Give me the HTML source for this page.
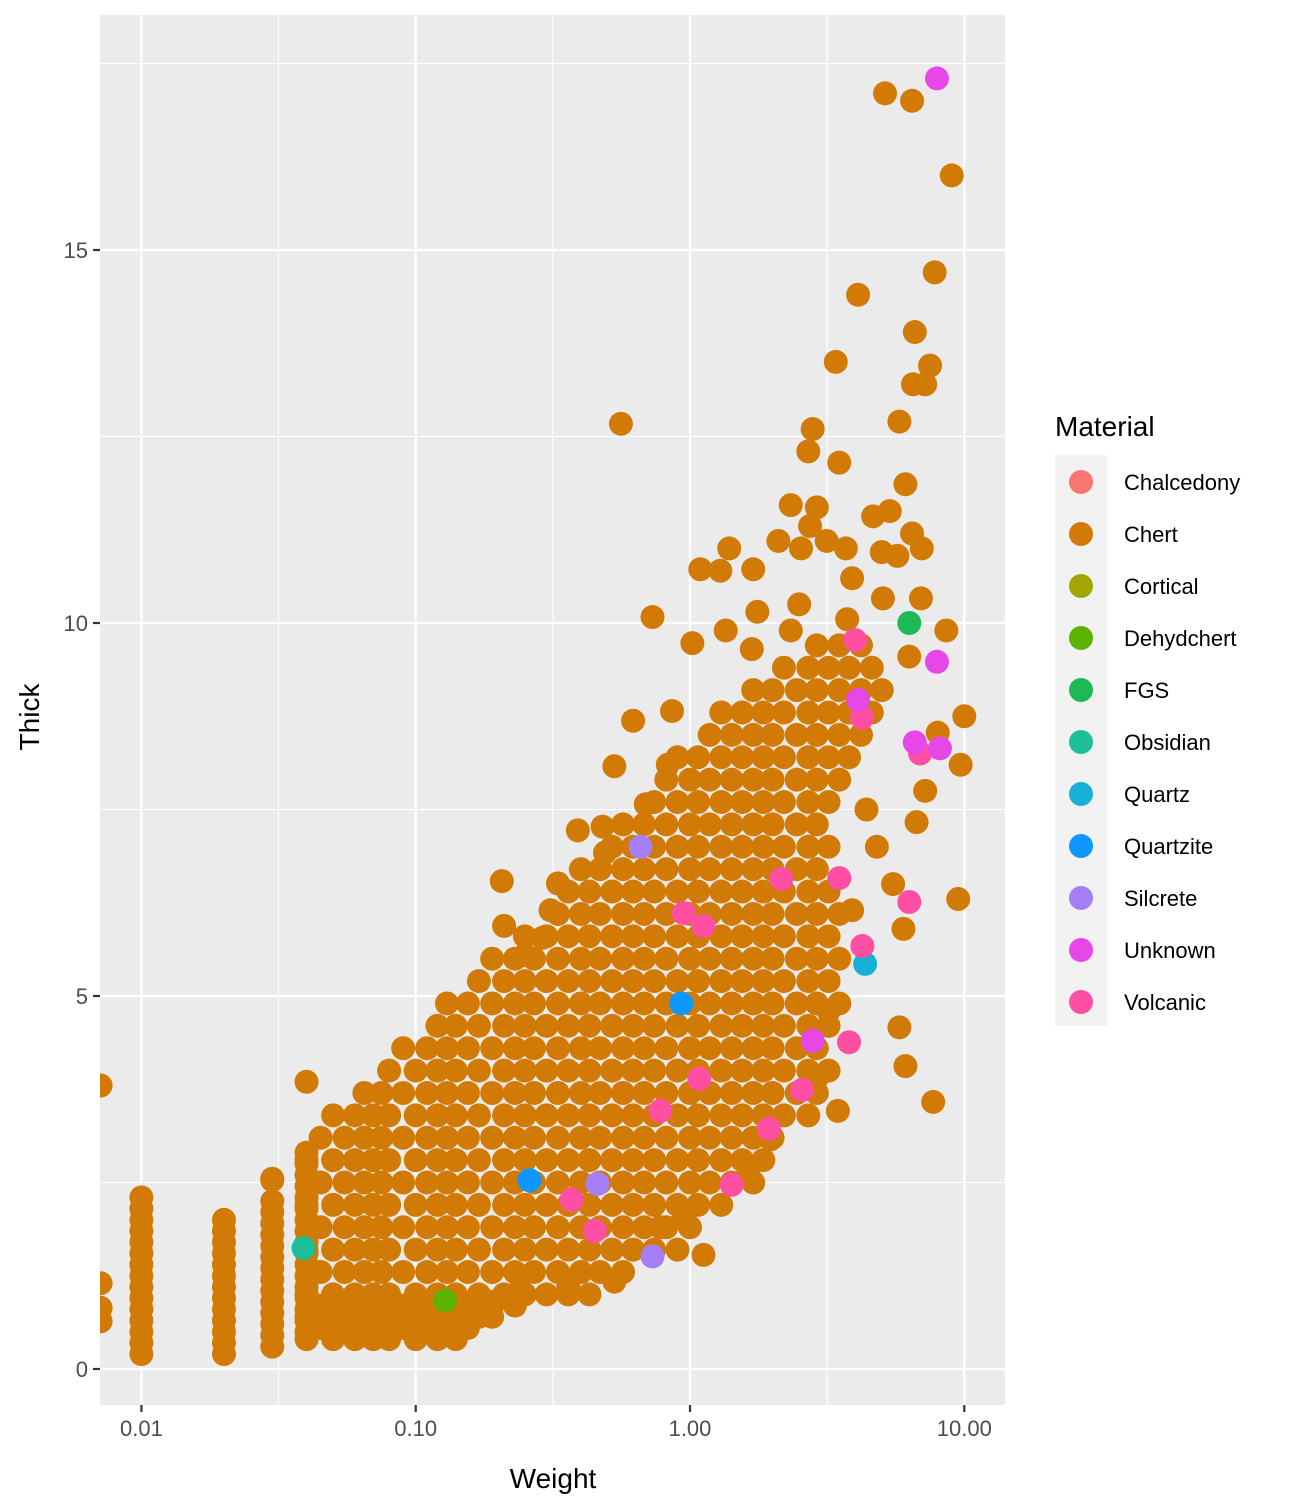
<!DOCTYPE html>
<html><head><meta charset="utf-8"><style>
html,body{margin:0;padding:0;background:#fff}
svg{display:block;font-family:"Liberation Sans",Arial,sans-serif}
</style></head><body>
<svg id="chart" width="1296" height="1512" viewBox="0 0 1296 1512">
<rect x="100" y="15" width="905" height="1390" fill="#EBEBEB"/>
<g id="grid"></g>
<g id="points"></g>
<g id="axes"></g>
<text x="553" y="1488" font-size="28" text-anchor="middle" fill="#000">Weight</text>
<text x="0" y="0" font-size="28" text-anchor="middle" fill="#000" transform="translate(39,717) rotate(-90)">Thick</text>
<text x="1055" y="436" font-size="28" fill="#000">Material</text>
<rect x="1055" y="455" width="52" height="571" fill="#F2F2F2"/>
<g id="legend"></g>
</svg>
<script>
const materials=["Chalcedony","Chert","Cortical","Dehydchert","FGS","Obsidian","Quartz","Quartzite","Silcrete","Unknown","Volcanic"];
const colors=["#F8766D","#D17A06","#A3A500","#5BB300","#1DB954","#1DBE9A","#16B1D6","#0E98FF","#A67EF5","#E847E8","#FF4FA3"];
const xTicks=[0.01,0.1,1,10];
const xTickLabels=["0.01","0.10","1.00","10.00"];
const yTicks=[0,5,10,15];
const yTickLabels=["0","5","10","15"];

const chertRowThick=[0.4,0.55,0.7,0.85,1.0,1.3,1.6,1.9,2.2,2.5,2.8,3.1,3.4,3.7,4.0,4.3,4.6,4.9,5.2,5.5,5.8,6.1,6.4,6.7,7.0,7.3,7.6,7.9,8.2,8.5,8.8,9.1,9.4,9.7];
const chertRowWeights=[
[0.04,0.05,0.06,0.07,0.08,0.1,0.12,0.14],
[0.045,0.055,0.065,0.075,0.09,0.11,0.13,0.155],
[0.04,0.05,0.06,0.07,0.08,0.1,0.12,0.14,0.17,0.19],
[0.045,0.055,0.065,0.075,0.09,0.11,0.13,0.155,0.19,0.23],
[0.04,0.05,0.06,0.07,0.08,0.1,0.12,0.14,0.17,0.21,0.25,0.3,0.36,0.43],
[0.045,0.055,0.065,0.075,0.09,0.11,0.13,0.155,0.19,0.23,0.27,0.33,0.4,0.47,0.57],
[0.04,0.05,0.06,0.07,0.08,0.1,0.12,0.14,0.17,0.21,0.25,0.3,0.36,0.43,0.52,0.62,0.74,0.9],
[0.045,0.055,0.065,0.075,0.09,0.11,0.13,0.155,0.19,0.23,0.27,0.33,0.4,0.47,0.57,0.68,0.82,1.0],
[0.04,0.05,0.06,0.07,0.08,0.1,0.12,0.14,0.17,0.21,0.25,0.3,0.36,0.43,0.52,0.62,0.74,0.9,1.07,1.3],
[0.045,0.055,0.065,0.075,0.09,0.11,0.13,0.155,0.19,0.23,0.27,0.33,0.4,0.47,0.57,0.68,0.82,1.0,1.18,1.42,1.7],
[0.04,0.05,0.06,0.07,0.08,0.1,0.12,0.14,0.17,0.21,0.25,0.3,0.36,0.43,0.52,0.62,0.74,0.9,1.07,1.3,1.55,1.85],
[0.045,0.055,0.065,0.075,0.09,0.11,0.13,0.155,0.19,0.23,0.27,0.33,0.4,0.47,0.57,0.68,0.82,1.0,1.18,1.42,1.7,2.0],
[0.05,0.06,0.07,0.08,0.1,0.12,0.14,0.17,0.21,0.25,0.3,0.36,0.43,0.52,0.62,0.74,0.9,1.07,1.3,1.55,1.85,2.2,2.7],
[0.065,0.075,0.09,0.11,0.13,0.155,0.19,0.23,0.27,0.33,0.4,0.47,0.57,0.68,0.82,1.0,1.18,1.42,1.7,2.0,2.45,2.9],
[0.08,0.1,0.12,0.14,0.17,0.21,0.25,0.3,0.36,0.43,0.52,0.62,0.74,0.9,1.07,1.3,1.55,1.85,2.2,2.7,3.2],
[0.09,0.11,0.13,0.155,0.19,0.23,0.27,0.33,0.4,0.47,0.57,0.68,0.82,1.0,1.18,1.42,1.7,2.0,2.45,2.9],
[0.12,0.14,0.17,0.21,0.25,0.3,0.36,0.43,0.52,0.62,0.74,0.9,1.07,1.3,1.55,1.85,2.2,2.7,3.2],
[0.13,0.155,0.19,0.23,0.27,0.33,0.4,0.47,0.57,0.68,0.82,1.0,1.18,1.42,1.7,2.0,2.45,2.9,3.5],
[0.17,0.21,0.25,0.3,0.36,0.43,0.52,0.62,0.74,0.9,1.07,1.3,1.55,1.85,2.2,2.7,3.2],
[0.19,0.23,0.27,0.33,0.4,0.47,0.57,0.68,0.82,1.0,1.18,1.42,1.7,2.0,2.45,2.9,3.5],
[0.25,0.3,0.36,0.43,0.52,0.62,0.74,0.9,1.07,1.3,1.55,1.85,2.2,2.7,3.2],
[0.33,0.4,0.47,0.57,0.68,0.82,1.0,1.18,1.42,1.7,2.0,2.45,2.9,3.5],
[0.36,0.43,0.52,0.62,0.74,0.9,1.07,1.3,1.55,1.85,2.2,2.7,3.2],
[0.4,0.47,0.57,0.68,0.82,1.0,1.18,1.42,1.7,2.0,2.45,2.9],
[0.52,0.62,0.74,0.9,1.07,1.3,1.55,1.85,2.2,2.7,3.2],
[0.57,0.68,0.82,1.0,1.18,1.42,1.7,2.0,2.45,2.9],
[0.74,0.9,1.07,1.3,1.55,1.85,2.2,2.7,3.2],
[0.82,1.0,1.18,1.42,1.7,2.0,2.45,2.9,3.5],
[0.9,1.07,1.3,1.55,1.85,2.2,2.7,3.2,3.8],
[1.18,1.42,1.7,2.0,2.45,2.9,3.5,4.2],
[1.3,1.55,1.85,2.2,2.7,3.2,3.8,4.6],
[1.7,2.0,2.45,2.9,3.5,4.2,5.0],
[2.2,2.7,3.2,3.8,4.6],
[2.9,3.5,4.2]
];
const chertColumnWeights=[0.01,0.02,0.03,0.04];
const chertColumnThicks=[
[0.2,0.35,0.5,0.65,0.8,0.95,1.1,1.25,1.4,1.55,1.7,1.85,2.0,2.15,2.3],
[0.2,0.35,0.5,0.65,0.8,0.95,1.1,1.25,1.4,1.55,1.7,1.85,2.0],
[0.3,0.45,0.6,0.75,0.9,1.05,1.2,1.35,1.5,1.65,1.8,1.95,2.1,2.25,2.55],
[0.5,0.65,0.8,0.95,1.1,1.25,1.4,1.55,1.7,1.85,2.0,2.15,2.3,2.45,2.6,2.75,2.9,3.85]
];
const chertOutlierWeight=[5.14,6.45,9.0,7.8,4.1,6.6,3.4,7.5,7.2,6.5,0.56,5.8,2.8,2.7,3.5,6.1,2.33,2.9,5.35,4.65,2.74,3.15,6.45,2.1,2.54,3.7,5.0,5.7,7.0,1.39,1.09,1.29,1.7,3.9,2.5,5.05,6.95,0.73,1.76,1.35,2.33,3.74,8.6,1.02,1.68,6.3,0.62,0.86,10.0,8.0,0.83,0.53,9.7,7.2,0.69,6.7,0.39,0.48,0.49,0.206,0.33,0.31,9.5,0.21,0.29,0.25,5.8,6.1,7.7,3.46,1.12,0.0071,0.0071,0.0071,0.0071,0.03,3.2,3.9,2.9,1.97,1.63,0.95,0.78,0.53,0.36,0.24,0.19,0.13,0.12,4.8,5.5,6.0,4.4];
const chertOutlierThick=[17.1,17.0,16.0,14.7,14.4,13.9,13.5,13.45,13.2,13.2,12.67,12.7,12.6,12.3,12.15,11.86,11.58,11.55,11.5,11.43,11.3,11.1,11.2,11.1,11.0,11.0,10.95,10.9,11.0,11.0,10.72,10.7,10.72,10.6,10.25,10.33,10.33,10.08,10.15,9.9,9.9,10.05,9.9,9.73,9.65,9.55,8.69,8.82,8.75,8.53,8.1,8.08,8.1,7.75,7.57,7.33,7.22,7.27,6.92,6.54,6.51,6.15,6.3,5.94,5.78,5.55,4.58,4.06,3.58,3.46,1.53,3.8,1.15,0.82,0.64,2.53,4.8,6.15,3.9,3.08,2.6,2.0,1.9,1.17,1.13,1.06,0.9,0.48,0.65,7.0,6.5,5.9,7.5];

const obsidianWeight=[0.039];
const obsidianThick=[1.62];
const dehydWeight=[0.128];
const dehydThick=[0.92];
const fgsWeight=[6.3];
const fgsThick=[10.0];
const quartzWeight=[4.35];
const quartzThick=[5.43];
const quartziteWeight=[0.93,0.26];
const quartziteThick=[4.9,2.53];
const silcreteWeight=[0.66,0.46,0.73];
const silcreteThick=[7.0,2.48,1.51];
const unknownWeight=[7.95,7.95,4.1,8.15,6.6,2.8];
const unknownThick=[17.3,9.48,8.97,8.32,8.4,4.4];
const volcanicWeight=[3.8,3.5,2.15,6.3,4.25,0.95,1.12,1.08,2.56,1.94,0.78,0.37,0.45,1.42,4.24,4.0,6.9];
const volcanicThick=[4.38,6.58,6.57,6.26,5.67,6.11,5.94,3.89,3.74,3.22,3.46,2.27,1.85,2.47,8.73,9.77,8.25];

const NS="http://www.w3.org/2000/svg";
const X0=100,X1=1005,Y0=15,Y1=1405;
function xs(w){return 690+274.3*Math.log10(w);}
function ys(t){return 1369-74.6*t;}
function mk(tag,attrs,parent){const e=document.createElementNS(NS,tag);for(const k in attrs)e.setAttribute(k,attrs[k]);parent.appendChild(e);return e;}

const grid=document.getElementById('grid');
[2.5,7.5,12.5,17.5].forEach(v=>{const l=mk('line',{x1:X0,x2:X1,y1:ys(v),y2:ys(v),stroke:'#fff','stroke-width':1.1},grid);

});
[0.0316,0.316,3.16].forEach(v=>{const l=mk('line',{x1:xs(v),x2:xs(v),y1:Y0,y2:Y1,stroke:'#fff','stroke-width':1.1},grid);

});
yTicks.forEach(v=>{const l=mk('line',{x1:X0,x2:X1,y1:ys(v),y2:ys(v),stroke:'#fff','stroke-width':2.2},grid);

});
xTicks.forEach(v=>{const l=mk('line',{x1:xs(v),x2:xs(v),y1:Y0,y2:Y1,stroke:'#fff','stroke-width':2.2},grid);

});

const axes=document.getElementById('axes');
yTicks.forEach((v,i)=>{
const t=mk('line',{x1:X0-7,x2:X0,y1:ys(v),y2:ys(v),stroke:'#333','stroke-width':2.2},axes);


const tx=mk('text',{x:X0-12,y:ys(v)+8,'font-size':22,'text-anchor':'end',fill:'#4D4D4D'},axes);
tx.textContent=yTickLabels[i];

});
xTicks.forEach((v,i)=>{
const t=mk('line',{x1:xs(v),x2:xs(v),y1:Y1,y2:Y1+7,stroke:'#333','stroke-width':2.2},axes);


const tx=mk('text',{x:xs(v),y:Y1+31,'font-size':22,'text-anchor':'middle',fill:'#4D4D4D'},axes);
tx.textContent=xTickLabels[i];

});

const pts=document.getElementById('points');
const clip=mk('clipPath',{id:'pc'},mk('defs',{},pts));
mk('rect',{x:X0,y:Y0,width:X1-X0,height:Y1-Y0},clip);
pts.setAttribute('clip-path','url(#pc)');
function dot(w,t,c,name){const e=mk('circle',{cx:xs(w),cy:ys(t),r:12,fill:c},pts);

}
chertColumnWeights.forEach((w,i)=>chertColumnThicks[i].forEach(t=>dot(w,t,colors[1],'chert-point')));
chertRowThick.forEach((t,i)=>chertRowWeights[i].forEach(w=>dot(w,t,colors[1],'chert-point')));
chertOutlierWeight.forEach((w,i)=>dot(w,chertOutlierThick[i],colors[1],'chert-point'));
dehydWeight.forEach((w,i)=>dot(w,dehydThick[i],colors[3],'dehydchert-point'));
obsidianWeight.forEach((w,i)=>dot(w,obsidianThick[i],colors[5],'obsidian-point'));
fgsWeight.forEach((w,i)=>dot(w,fgsThick[i],colors[4],'fgs-point'));
quartzWeight.forEach((w,i)=>dot(w,quartzThick[i],colors[6],'quartz-point'));
quartziteWeight.forEach((w,i)=>dot(w,quartziteThick[i],colors[7],'quartzite-point'));
silcreteWeight.forEach((w,i)=>dot(w,silcreteThick[i],colors[8],'silcrete-point'));
volcanicWeight.forEach((w,i)=>dot(w,volcanicThick[i],colors[10],'volcanic-point'));
unknownWeight.forEach((w,i)=>dot(w,unknownThick[i],colors[9],'unknown-point'));

const lg=document.getElementById('legend');
materials.forEach((m,i)=>{
const g=mk('g',{},lg);


mk('circle',{cx:1081,cy:482+52*i,r:12,fill:colors[i]},g);
const t=mk('text',{x:1124,y:490+52*i,'font-size':22,fill:'#000'},g);
t.textContent=m;});
</script>
</body></html>
